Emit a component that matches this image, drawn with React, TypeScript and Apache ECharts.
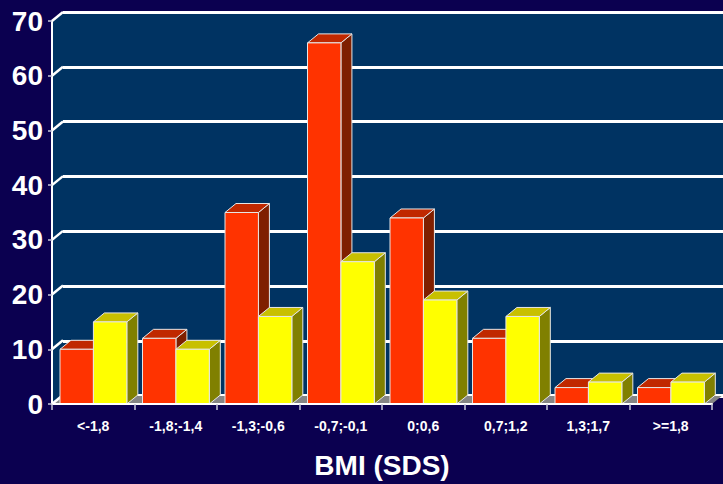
import React, { useEffect, useRef } from "react";
import * as echarts from "echarts";

const categories = ["<-1,8", "-1,8;-1,4", "-1,3;-0,6", "-0,7;-0,1", "0;0,6", "0,7;1,2", "1,3;1,7", ">=1,8"];
const redValues = [10, 12, 35, 66, 34, 12, 3, 3];
const yellowValues = [15, 10, 16, 26, 19, 16, 4, 4];
const yTicks = [0, 10, 20, 30, 40, 50, 60, 70];
const axisTitle = "BMI (SDS)";

const DX = 11;
const DY = -9;
const FONT = "'Liberation Sans', Arial, sans-serif";

function barRender(offsetFrac: number, front: string, top: string, side: string) {
  return (params: any, api: any) => {
    const idx = api.value(0);
    const v = api.value(1);
    const base = api.coord([idx, 0]);
    const tp = api.coord([idx, v]);
    const band = api.size([1, 0])[0];
    const x0 = base[0] - band / 2 + band * offsetFrac;
    const w = band * 0.405;
    const yb = base[1];
    const yt = tp[1];
    const stroke = { stroke: "#e6e6e6", lineWidth: 1 };
    return {
      type: "group",
      children: [
        {
          type: "polygon",
          shape: { points: [[x0 + w, yt], [x0 + w + DX, yt + DY], [x0 + w + DX, yb + DY], [x0 + w, yb]] },
          style: { fill: side, ...stroke },
        },
        {
          type: "polygon",
          shape: { points: [[x0, yt], [x0 + w, yt], [x0 + w + DX, yt + DY], [x0 + DX, yt + DY]] },
          style: { fill: top, ...stroke },
        },
        {
          type: "rect",
          shape: { x: x0, y: yt, width: w, height: yb - yt },
          style: { fill: front, ...stroke },
        },
      ],
    };
  };
}

function wallRender(params: any, api: any) {
  const band = api.size([1, 0])[0];
  const left = api.coord([0, 0])[0] - band / 2;
  const right = api.coord([categories.length - 1, 0])[0] + band / 2;
  const yBot = api.coord([0, yTicks[0]])[1];
  const yTop = api.coord([0, yTicks[yTicks.length - 1]])[1];
  const children: any[] = [
    {
      type: "polygon",
      shape: { points: [[left, yTop], [left + DX, yTop + DY], [left + DX, yBot + DY], [left, yBot]] },
      style: { fill: "#003362" },
    },
    {
      type: "polygon",
      shape: { points: [[left, yBot], [left + DX, yBot + DY], [right + DX, yBot + DY], [right, yBot]] },
      style: { fill: "#858585" },
    },
    {
      type: "line",
      shape: { x1: left + DX, y1: yBot + DY, x2: right + DX, y2: yBot + DY },
      style: { stroke: "#ffffff", lineWidth: 2 },
    },
  ];
  yTicks.forEach((t) => {
    const y = api.coord([0, t])[1];
    children.push({
      type: "line",
      shape: { x1: left, y1: y, x2: left + DX, y2: y + DY },
      style: { stroke: "#ffffff", lineWidth: 2.5 },
    });
  });
  return { type: "group", children };
}

export default function App() {
  const ref = useRef<HTMLDivElement>(null);
  useEffect(() => {
    if (!ref.current) return;
    const chart = echarts.init(ref.current, null, { renderer: "svg" });
    chart.setOption({
      animation: false,
      backgroundColor: "#0b0050",
      grid: [
        { left: 52, right: 11, top: 21, bottom: 79 },
        { left: 63, right: 0, top: 12, bottom: 88, show: true, backgroundColor: "#003362", borderWidth: 0 },
      ],
      xAxis: [
        {
          type: "category",
          gridIndex: 0,
          data: categories,
          z: 10,
          axisLine: { show: true, lineStyle: { color: "#ffffff", width: 2 } },
          axisTick: { show: true, length: 6, lineStyle: { color: "#c8c8d8", width: 1.5 } },
          axisLabel: { color: "#ffffff", fontWeight: "bold", fontSize: 14, fontFamily: FONT, margin: 15, interval: 0 },
          name: axisTitle,
          nameLocation: "middle",
          nameGap: 47,
          nameTextStyle: { color: "#ffffff", fontWeight: "bold", fontSize: 28, fontFamily: FONT },
        },
        {
          type: "category",
          gridIndex: 1,
          data: categories,
          show: false,
        },
      ],
      yAxis: [
        {
          type: "value",
          gridIndex: 0,
          min: 0,
          max: 70,
          interval: 10,
          z: 10,
          axisLine: { show: true, lineStyle: { color: "#ffffff", width: 2 } },
          axisTick: { show: true, length: 4, lineStyle: { color: "#c8c8d8", width: 1.5 } },
          axisLabel: { color: "#ffffff", fontWeight: "bold", fontSize: 28, fontFamily: FONT, margin: 9 },
          splitLine: { show: false },
        },
        {
          type: "value",
          gridIndex: 1,
          min: 0,
          max: 70,
          interval: 10,
          axisLine: { show: false },
          axisTick: { show: false },
          axisLabel: { show: false },
          splitLine: { show: true, lineStyle: { color: "#ffffff", width: 3 } },
        },
      ],
      series: [
        {
          type: "custom",
          xAxisIndex: 0,
          yAxisIndex: 0,
          z: 1,
          silent: true,
          data: [[0, 0]],
          renderItem: wallRender,
        },
        {
          type: "custom",
          name: "red",
          xAxisIndex: 0,
          yAxisIndex: 0,
          z: 3,
          data: redValues.map((v, i) => [i, v]),
          renderItem: barRender(0.097, "#ff3300", "#c02800", "#7f1f00"),
        },
        {
          type: "custom",
          name: "yellow",
          xAxisIndex: 0,
          yAxisIndex: 0,
          z: 4,
          data: yellowValues.map((v, i) => [i, v]),
          renderItem: barRender(0.502, "#ffff00", "#c8c000", "#808000"),
        },
      ],
    });
    return () => chart.dispose();
  }, []);
  return <div ref={ref} style={{ width: 723, height: 484, position: "absolute", left: 0, top: 0 }} />;
}
